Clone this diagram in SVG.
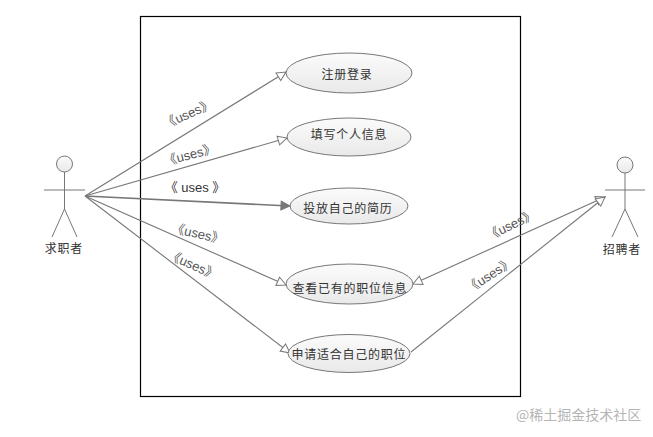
<svg xmlns="http://www.w3.org/2000/svg" width="653" height="437" viewBox="0 0 653 437">
<style>
text{font-family:"Noto Sans CJK SC","Liberation Sans",sans-serif;fill:#333;text-anchor:middle}
.n{font-size:12px;letter-spacing:.75px}
.u{font-size:13px;fill:#555;font-family:"Liberation Sans","Noto Sans CJK SC",sans-serif}
.uc{font-size:13px;fill:#333;font-family:"Liberation Sans","Noto Sans CJK SC",sans-serif}
.e{fill:url(#g);stroke:#777;stroke-width:1}
.a{fill:none;stroke:#777;stroke-width:1}
.c{fill:none;stroke:#777;stroke-width:1.1}
.b{fill:none;stroke:#777;stroke-width:1.7}
.wm{font-size:14px;fill:#b5b5b5;text-anchor:start}
</style>
<defs>
<linearGradient id="g" x1="0" y1="0" x2="0" y2="1"><stop offset="0" stop-color="#fbfbfb"/><stop offset="1" stop-color="#e9e9e9"/></linearGradient>
<marker id="h" markerUnits="userSpaceOnUse" markerWidth="12" markerHeight="12" refX="10" refY="5.500" orient="auto-start-reverse"><path d="M1 1 L10 5.500 L1 10 Z" fill="#fff" stroke="#777"/></marker>
<marker id="f" markerUnits="userSpaceOnUse" markerWidth="12" markerHeight="12" refX="10" refY="5.500" orient="auto"><path d="M1 1 L10 5.500 L1 10 Z" fill="#777" stroke="#777"/></marker>
</defs>
<rect width="653" height="437" fill="#fff"/>
<rect id="boundary" x="140.500" y="16.500" width="380" height="380" fill="none" stroke="#000" stroke-width="1.200"/>
<g id="connectors">
<path class="c" d="M85 196 L286 72" marker-end="url(#h)"/>
<path class="c" d="M85 196 L287 138" marker-end="url(#h)"/>
<path class="b" d="M85 196 L290 206" marker-end="url(#f)"/>
<path class="c" d="M85 196 L286 285" marker-end="url(#h)"/>
<path class="c" d="M85 196 L290 353" marker-end="url(#h)"/>
<path class="c" d="M413 284 L605 197" marker-start="url(#h)" marker-end="url(#h)"/>
<path class="c" d="M411 352 L605 197" marker-end="url(#h)"/>
</g>
<g id="labels">
<text class="u" transform="translate(190 118) rotate(-24)">《uses》</text>
<text class="u" transform="translate(191 159) rotate(-15)">《uses》</text>
<text class="uc" x="195" y="192">《 uses 》</text>
<text class="u" transform="translate(197 238) rotate(13)">《uses》</text>
<text class="u" transform="translate(191 269) rotate(24)">《uses》</text>
<text class="u" transform="translate(513 229) rotate(-26)">《uses》</text>
<text class="u" transform="translate(492 279) rotate(-33)">《uses》</text>
</g>
<g id="actor-seeker">
<circle class="e" cx="64.500" cy="164" r="8"/>
<path class="a" d="M64.500 172 V209 M44 190 H85 M64.500 209 L52 237 M64.500 209 L77 237"/>
<text class="n" x="64" y="253">求职者</text>
</g>
<g id="actor-recruiter">
<circle class="e" cx="625" cy="165" r="8"/>
<path class="a" d="M625 173 V209 M605 190 H645 M625 209 L612 237 M625 209 L638 237"/>
<text class="n" x="622" y="254">招聘者</text>
</g>
<g id="uc1"><ellipse class="e" cx="349" cy="73" rx="63" ry="20"/><text class="n" x="347" y="79">注册登录</text></g>
<g id="uc2"><ellipse class="e" cx="349" cy="137" rx="62" ry="19"/><text class="n" x="349" y="139">填写个人信息</text></g>
<g id="uc3"><ellipse class="e" cx="349" cy="206" rx="59" ry="18"/><text class="n" x="348" y="212.500">投放自己的简历</text></g>
<g id="uc4"><ellipse class="e" cx="349.500" cy="284" rx="63.500" ry="20"/><text class="n" x="350" y="292.500">查看已有的职位信息</text></g>
<g id="uc5"><ellipse class="e" cx="349" cy="353.500" rx="61" ry="19"/><text class="n" x="349" y="358.500">申请适合自己的职位</text></g>
<text class="wm" x="516" y="420">@稀土掘金技术社区</text>
</svg>
